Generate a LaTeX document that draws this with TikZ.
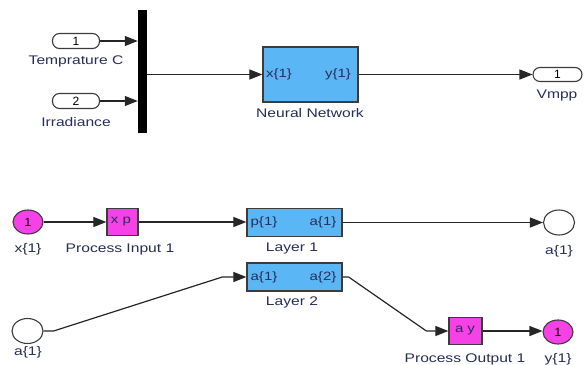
\documentclass[tikz,border=0pt]{standalone}
\usepackage{fontspec}
\setmainfont{Liberation Sans}
\usetikzlibrary{arrows.meta,shapes.geometric}
\definecolor{blkblue}{RGB}{90,182,245}
\definecolor{mag}{RGB}{245,65,230}
\definecolor{txtcol}{RGB}{40,45,90}
\definecolor{edgecol}{RGB}{60,60,60}
\newcommand{\wt}[1]{\scalebox{1.25}[1]{#1}}
\begin{document}
\begin{tikzpicture}[x=1pt,y=-1pt,
  lbl/.style={font=\fontsize{12.5}{12.5}\selectfont, text=txtcol, inner sep=0pt},
  ptxt/.style={font=\fontsize{12}{12}\selectfont, text=txtcol, inner sep=0pt},
  portnum/.style={font=\fontsize{12}{12}\selectfont, text=black},
  inport/.style={draw=edgecol, line width=1.1pt, rounded corners=7pt, fill=white, minimum width=47pt, minimum height=15pt, inner sep=0pt, portnum},
  blk/.style={draw=edgecol, line width=1.3pt, fill=blkblue, inner sep=0pt},
  magbox/.style={draw=edgecol, line width=1.3pt, fill=mag, inner sep=0pt, minimum width=31pt, minimum height=27pt},
  magport/.style={ellipse, draw=edgecol, line width=1.1pt, fill=mag, minimum width=30pt, minimum height=24pt, inner sep=0pt, portnum},
  wport/.style={ellipse, draw=edgecol, line width=1.1pt, fill=white, minimum width=31pt, minimum height=25pt, inner sep=0pt},
  wire/.style={draw=black!85, line width=1.2pt},
  arr/.style={wire, -{Triangle[length=13pt,width=10pt]}}
]
\useasboundingbox (0,0) rectangle (585,364);

% ---------- top model ----------
\node[inport] (in1) at (76,41) {1};
\node[lbl] (in1l) at (76,61) {\wt{Temprature C}};
\node[inport] (in2) at (76,101) {2};
\node[lbl] (in2l) at (76,122) {\wt{Irradiance}};
\node[fill=black, minimum width=9pt, minimum height=123pt, inner sep=0pt] (mux) at (142.5,71.5) {};

\node[blk, minimum width=95pt, minimum height=55pt] (nn) at (310.5,74.5) {};
\node[ptxt] (nnx) at (279,74) {\wt{x\{1\}}};
\node[ptxt] (nny) at (338,74) {\wt{y\{1\}}};
\node[lbl] (nnl) at (310,113) {\wt{Neural Network}};

\node[inport, minimum width=49pt, minimum height=14pt] (out1) at (557.5,74.5) {1};
\node[lbl] (out1l) at (557,95) {\wt{Vmpp}};

\draw[arr] (in1.east) -- (in1 -| mux.west);
\draw[arr] (in2.east) -- (in2 -| mux.west);
\draw[arr] (mux.east |- nn) -- (nn.west);
\draw[arr] (nn.east) -- (out1.west);

% ---------- bottom model ----------
\node[magport] (xin) at (28,222) {1};
\node[lbl] (xinl) at (28,249) {\wt{x\{1\}}};

\node[magbox] (pin) at (122.5,222) {};
\node[ptxt] (pint) at (121,222) {\wt{x p}};
\node[lbl] (pinl) at (120,249) {\wt{Process Input 1}};

\node[blk, minimum width=95pt, minimum height=28pt] (L1) at (294.5,222.5) {};
\node[ptxt] (L1p) at (264,222) {\wt{p\{1\}}};
\node[ptxt] (L1a) at (323,222) {\wt{a\{1\}}};
\node[lbl] (L1l) at (292,248) {\wt{Layer 1}};

\node[wport] (a1out) at (559,222.5) {};
\node[lbl] (a1outl) at (559,251) {\wt{a\{1\}}};

\node[blk, minimum width=95pt, minimum height=28pt] (L2) at (294.5,277) {};
\node[ptxt] (L2a) at (264,277) {\wt{a\{1\}}};
\node[ptxt] (L2b) at (323,277) {\wt{a\{2\}}};
\node[lbl] (L2l) at (292,302) {\wt{Layer 2}};

\node[wport] (a1in) at (27.5,331) {};
\node[lbl] (a1inl) at (28,352) {\wt{a\{1\}}};

\node[magbox, minimum width=33pt] (pout) at (465.5,331) {};
\node[ptxt] (poutt) at (465,331) {\wt{a y}};
\node[lbl] (poutl) at (465,359) {\wt{Process Output 1}};

\node[magport] (yout) at (558,332) {1};
\node[lbl] (youtl) at (558,359) {\wt{y\{1\}}};

\draw[arr] (xin.east |- pin) -- (pin.west);
\draw[arr] (pin.east) -- (pin.east -| L1.west);
\draw[arr] (L1.east) -- (L1.east -| a1out.west);
\draw[arr] (a1in.east) -- ++(10,0) -- ([xshift=-24pt]L2.west) -- (L2.west);
\draw[arr] (L2.east) -- ++(6,0) -- ([xshift=-22pt]pout.west) -- (pout.west);
\draw[arr] (pout.east) -- (pout.east -| yout.west);
\end{tikzpicture}
\end{document}
